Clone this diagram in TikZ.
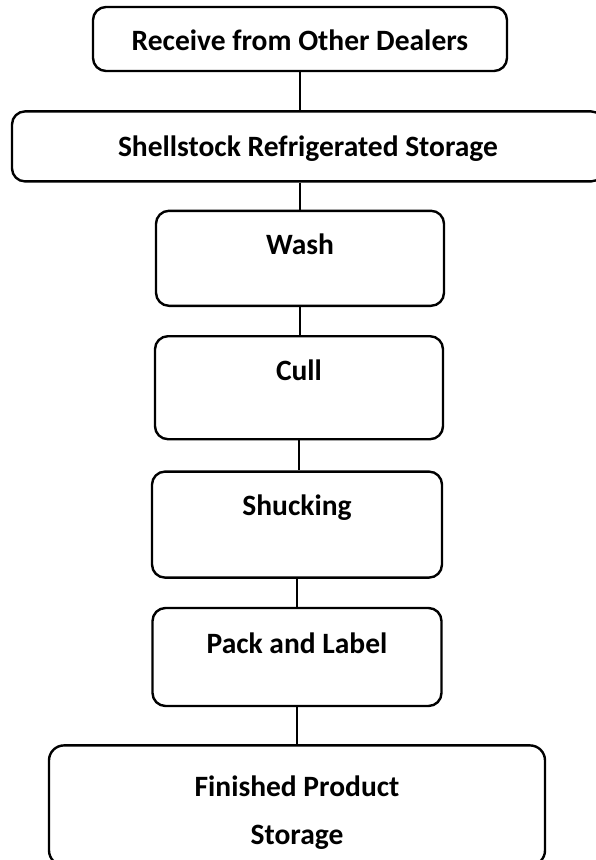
\documentclass[tikz,border=0pt]{standalone}
\usepackage{fontspec}
\setmainfont{Carlito}
\usetikzlibrary{positioning}

\begin{document}
\begin{tikzpicture}[
    x=1pt,y=-1pt,
    node distance=28pt,
    stage/.style={draw,line width=2.4pt,rounded corners=13pt,inner sep=0pt,align=center,font=\fontsize{29.5}{48}\selectfont\bfseries},
    link/.style={line width=1.5pt}
  ]
    \useasboundingbox (0,0) rectangle (595,860);
    \node[stage,minimum width=414pt,text height=43pt,text depth=21pt] (recv) at (300,39) {Receive from Other Dealers};
    \node[stage,minimum width=592pt,text height=45pt,text depth=25pt,below=38pt of recv,xshift=8pt] (shell) {Shellstock Refrigerated Storage};
    \node[stage,minimum width=288pt,text height=44pt,text depth=51pt,below=27pt of shell,xshift=-8pt] (wash) {Wash};
    \node[stage,minimum width=288pt,text height=44pt,text depth=59pt,below=28pt of wash,xshift=-1pt] (cull) {Cull};
    \node[stage,minimum width=290pt,text height=44pt,text depth=62pt,below=30pt of cull,xshift=-2pt] (shuck) {Shucking};
    \node[stage,minimum width=289pt,text height=45pt,text depth=53pt,below=28pt of shuck] (pack) {Pack and Label};
    % two lines: the box sits on the last baseline
    \node[stage,minimum width=496pt,text height=99pt,text depth=21pt,rounded corners=15pt,below=37pt of pack] (fin) {Finished Product\\Storage};
    \draw[link] (recv) -- (recv |- shell.north);
    \draw[link] (wash.north |- shell.south) -- (wash);
    \draw[link] (wash.south) -- (wash.south |- cull.north);
    \draw[link] (cull.south) -- (cull.south |- shuck.north);
    \draw[link] (shuck) -- (pack);
    \draw[link] (pack) -- (fin);
  \end{tikzpicture}
\end{document}
